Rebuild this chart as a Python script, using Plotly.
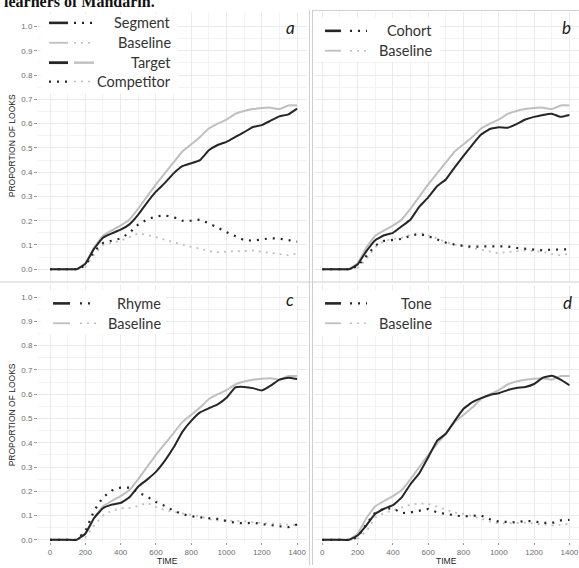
import plotly.graph_objects as go

W, H = 579, 568

# ---------------- data ----------------
time_ms = [0, 50, 100, 150, 200, 250, 300, 350, 400, 450, 500, 550, 600, 650, 700,
           750, 800, 850, 900, 950, 1000, 1050, 1100, 1150, 1200, 1250, 1300, 1350, 1400]

baseline_target = [0, 0, 0, 0, 0.025, 0.09, 0.138, 0.16, 0.18, 0.205, 0.25, 0.30, 0.35, 0.395, 0.44,
                   0.485, 0.515, 0.545, 0.58, 0.60, 0.617, 0.64, 0.652, 0.66, 0.664, 0.666, 0.66, 0.675, 0.675]

segment_target = [0, 0, 0, 0, 0.022, 0.085, 0.13, 0.148, 0.163, 0.185, 0.225, 0.275, 0.32, 0.355, 0.395,
                  0.425, 0.437, 0.45, 0.49, 0.512, 0.525, 0.545, 0.565, 0.586, 0.594, 0.612, 0.63, 0.638, 0.662]
segment_comp = [0, 0, 0, 0, 0.015, 0.075, 0.108, 0.117, 0.127, 0.15, 0.185, 0.205, 0.218, 0.222, 0.215,
                0.2, 0.2, 0.205, 0.19, 0.172, 0.153, 0.135, 0.12, 0.118, 0.123, 0.128, 0.126, 0.12, 0.114]
segment_base_comp = [0, 0, 0, 0, 0.01, 0.06, 0.1, 0.108, 0.118, 0.132, 0.148, 0.142, 0.132, 0.122, 0.112,
                     0.101, 0.092, 0.085, 0.075, 0.07, 0.073, 0.075, 0.075, 0.077, 0.072, 0.067, 0.06, 0.058, 0.064]

cohort_target = [0, 0, 0, 0, 0.02, 0.075, 0.12, 0.14, 0.15, 0.177, 0.205, 0.258, 0.296, 0.342, 0.37,
                 0.42, 0.467, 0.513, 0.555, 0.578, 0.585, 0.583, 0.598, 0.617, 0.628, 0.636, 0.641, 0.628, 0.636]
cohort_comp = [0, 0, 0, 0, 0.012, 0.056, 0.098, 0.117, 0.122, 0.125, 0.138, 0.146, 0.136, 0.123, 0.11,
               0.102, 0.096, 0.092, 0.094, 0.094, 0.094, 0.094, 0.088, 0.085, 0.082, 0.078, 0.081, 0.082, 0.082]
cohort_base_comp = [0, 0, 0, 0, 0.005, 0.042, 0.092, 0.117, 0.125, 0.13, 0.142, 0.15, 0.14, 0.126, 0.113,
                    0.102, 0.095, 0.088, 0.083, 0.075, 0.066, 0.071, 0.074, 0.077, 0.075, 0.072, 0.063, 0.058, 0.064]

rhyme_target = [0, 0, 0, 0, 0.025, 0.09, 0.13, 0.145, 0.152, 0.175, 0.22, 0.248, 0.28, 0.325, 0.38,
                0.445, 0.49, 0.525, 0.542, 0.558, 0.585, 0.628, 0.63, 0.625, 0.615, 0.635, 0.66, 0.668, 0.663]
rhyme_comp = [0, 0, 0, 0, 0.035, 0.12, 0.175, 0.203, 0.215, 0.215, 0.195, 0.178, 0.156, 0.14, 0.12,
              0.106, 0.097, 0.092, 0.089, 0.086, 0.077, 0.07, 0.068, 0.071, 0.065, 0.059, 0.056, 0.052, 0.063]
rhyme_base_comp = [0, 0, 0, 0, 0.01, 0.06, 0.1, 0.12, 0.13, 0.131, 0.14, 0.152, 0.136, 0.123, 0.115,
                   0.11, 0.104, 0.097, 0.085, 0.079, 0.079, 0.079, 0.077, 0.072, 0.07, 0.068, 0.066, 0.062, 0.06]

tone_target = [0, 0, 0, 0, 0.018, 0.06, 0.107, 0.128, 0.143, 0.175, 0.23, 0.275, 0.34, 0.408, 0.437,
               0.49, 0.54, 0.567, 0.584, 0.597, 0.604, 0.617, 0.626, 0.63, 0.642, 0.668, 0.676, 0.66, 0.637]
tone_comp = [0, 0, 0, 0, 0.01, 0.065, 0.113, 0.128, 0.13, 0.11, 0.113, 0.12, 0.127, 0.113, 0.106,
             0.101, 0.096, 0.1, 0.1, 0.085, 0.075, 0.072, 0.072, 0.078, 0.076, 0.07, 0.069, 0.08, 0.082]
tone_base_comp = [0, 0, 0, 0, 0.005, 0.036, 0.093, 0.11, 0.122, 0.134, 0.145, 0.15, 0.148, 0.137, 0.124,
                  0.112, 0.107, 0.098, 0.087, 0.075, 0.068, 0.068, 0.07, 0.071, 0.067, 0.062, 0.059, 0.062, 0.066]

y_ticks = [0.0, 0.1, 0.2, 0.3, 0.4, 0.5, 0.6, 0.7, 0.8, 0.9, 1.0]
x_ticks = [0, 200, 400, 600, 800, 1000, 1200, 1400]

panels = [
    # (axis suffix, panel letter, condition name, target, competitor, baseline competitor)
    ("", "a", "Segment", segment_target, segment_comp, segment_base_comp),
    ("2", "b", "Cohort", cohort_target, cohort_comp, cohort_base_comp),
    ("3", "c", "Rhyme", rhyme_target, rhyme_comp, rhyme_base_comp),
    ("4", "d", "Tone", tone_target, tone_comp, tone_base_comp),
]

# ---------------- styles ----------------
BLACK = "#262626"
GRAY = "#bfbfbf"
GRID = "#ebebeb"
GRID_MINOR = "#f3f3f3"
TXT = "#333333"
TICK = "#6e6e6e"
DOT_B = "2px,6px"
DOT_G = "2px,5px"

def px_x(px):
    return px / W

def px_y(py):
    return 1 - py / H

fig = go.Figure()

for suf, letter, name, tgt, comp, bcomp in panels:
    xa = "x" + suf
    ya = "y" + suf
    fig.add_trace(go.Scatter(x=time_ms, y=bcomp, mode="lines", xaxis=xa, yaxis=ya,
                             line=dict(color=GRAY, width=1.8, dash=DOT_G), showlegend=False))
    fig.add_trace(go.Scatter(x=time_ms, y=baseline_target, mode="lines", xaxis=xa, yaxis=ya,
                             line=dict(color=GRAY, width=2, shape="spline", smoothing=0.3), showlegend=False))
    fig.add_trace(go.Scatter(x=time_ms, y=comp, mode="lines", xaxis=xa, yaxis=ya,
                             line=dict(color=BLACK, width=2.2, dash=DOT_B), showlegend=False))
    fig.add_trace(go.Scatter(x=time_ms, y=tgt, mode="lines", xaxis=xa, yaxis=ya,
                             line=dict(color=BLACK, width=2, shape="spline", smoothing=0.3), showlegend=False))

# ---------------- axes ----------------
LEFT_X = [38, 307]
RIGHT_X = [314, 579]
TOP_Y = [12, 282]
BOT_Y = [287, 545]

def xrange_for(dom, zero_px):
    s = 35.3 / 200
    return [(dom[0] - zero_px) / s, (dom[1] - zero_px) / s]

def yrange_for(dom, zero_py):
    s = 244.0
    return [(zero_py - dom[1]) / s, (zero_py - dom[0]) / s]

axis_font = dict(family="Liberation Sans, Arial, sans-serif", size=8, color=TICK)

def xaxis(dom, zero_px, labels):
    return dict(domain=[px_x(dom[0]), px_x(dom[1])], range=xrange_for(dom, zero_px),
                tickvals=x_ticks, showticklabels=labels, ticks="outside" if labels else "",
                ticklen=2, tickcolor="#999999", tickfont=axis_font,
                showgrid=True, gridcolor=GRID, gridwidth=1, zeroline=False, showline=False,
                minor=dict(tickvals=[100, 300, 500, 700, 900, 1100, 1300], showgrid=True,
                           gridcolor=GRID_MINOR, gridwidth=1, ticks=""),
                fixedrange=True)

def yaxis(dom, zero_py, labels, anchor):
    return dict(domain=[px_y(dom[1]), px_y(dom[0])], range=yrange_for(dom, zero_py),
                tickvals=y_ticks, ticktext=["%.1f" % v for v in y_ticks],
                showticklabels=labels, ticks="outside" if labels else "",
                ticklen=3, tickcolor="#999999", tickfont=axis_font,
                showgrid=True, gridcolor=GRID, gridwidth=1, zeroline=False, showline=False,
                minor=dict(tickvals=[0.05, 0.15, 0.25, 0.35, 0.45, 0.55, 0.65, 0.75, 0.85, 0.95],
                           showgrid=True, gridcolor=GRID_MINOR, gridwidth=1, ticks=""),
                anchor=anchor, fixedrange=True)

fig.update_layout(
    width=W, height=H, autosize=False,
    margin=dict(l=0, r=0, t=0, b=0),
    paper_bgcolor="white", plot_bgcolor="white",
    showlegend=False,
    xaxis=dict(xaxis(LEFT_X, 50.0, False), anchor="y"),
    yaxis=yaxis(TOP_Y, 270.7, True, "x"),
    xaxis2=dict(xaxis(RIGHT_X, 322.3, False), anchor="y2"),
    yaxis2=yaxis(TOP_Y, 270.7, False, "x2"),
    xaxis3=dict(xaxis(LEFT_X, 50.0, True), anchor="y3"),
    yaxis3=yaxis(BOT_Y, 542.7, True, "x3"),
    xaxis4=dict(xaxis(RIGHT_X, 322.3, True), anchor="y4"),
    yaxis4=yaxis(BOT_Y, 542.7, False, "x4"),
)

shapes = []
annotations = []

# panel separators
sep = dict(color="#cfcfcf", width=1)
for xp in (309.5, 312.5):
    shapes.append(dict(type="line", xref="paper", yref="paper", x0=px_x(xp), x1=px_x(xp),
                       y0=px_y(10), y1=0, line=sep, layer="above"))
shapes.append(dict(type="line", xref="paper", yref="paper", x0=0, x1=1,
                   y0=px_y(283.5), y1=px_y(283.5), line=sep, layer="above"))
shapes.append(dict(type="line", xref="paper", yref="paper", x0=px_x(312.5), x1=1,
                   y0=px_y(10.5), y1=px_y(10.5), line=sep, layer="above"))

# legend boxes
def legend_box(x0, y0, x1, y1):
    shapes.append(dict(type="rect", xref="paper", yref="paper", x0=px_x(x0), x1=px_x(x1),
                       y0=px_y(y1), y1=px_y(y0), fillcolor="white", line=dict(width=0), layer="above"))

def sample(x0, x1, py, color, dash, width):
    d = dict(color=color, width=width)
    if dash:
        d["dash"] = dash
    shapes.append(dict(type="line", xref="paper", yref="paper", x0=px_x(x0), x1=px_x(x1),
                       y0=px_y(py), y1=px_y(py), line=d, layer="above"))

def label(text, xr, py, size=14.5):
    annotations.append(dict(text=text, xref="paper", yref="paper", x=px_x(xr), y=px_y(py),
                            xanchor="right", yanchor="middle", showarrow=False,
                            font=dict(family="Lato, Carlito, sans-serif", size=size, color=TXT)))

# panel a legend
legend_box(41, 14, 178, 94)
rows_a = [
    ("Segment", 23, (BLACK, None, 2.6), (BLACK, DOT_B, 2.2)),
    ("Baseline", 43, (GRAY, None, 1.8), (GRAY, DOT_G, 1.6)),
    ("Target", 63, (BLACK, None, 2.8), (GRAY, None, 2.4)),
    ("Competitor", 82, (BLACK, DOT_B, 2.2), (GRAY, DOT_G, 1.6)),
]
for txt, py, s1, s2 in rows_a:
    sample(49, 68, py, s1[0], s1[1], s1[2])
    sample(74, 94, py, s2[0], s2[1], s2[2])
    label(txt, 173, py)

# panels b, c, d legends
small_legends = [
    ("Cohort", 315, 18, 440, 62, 325, 341, 350, 367, 433.5, 31, 51),
    ("Rhyme", 41, 292, 166, 336, 53, 70, 80, 96, 162.5, 305, 325),
    ("Tone", 315, 292, 440, 338, 325, 341, 350, 367, 433.5, 305, 325),
]
for name, bx0, by0, bx1, by1, s0, s1, d0, d1, tr, r1, r2 in small_legends:
    legend_box(bx0, by0, bx1, by1)
    sample(s0, s1, r1, BLACK, None, 2.6)
    sample(d0, d1, r1, BLACK, DOT_B, 2.2)
    label(name, tr, r1)
    sample(s0, s1, r2, GRAY, None, 1.8)
    sample(d0, d1, r2, GRAY, DOT_G, 1.6)
    label("Baseline", tr, r2)

# panel letters
for letter, xp, yp in (("a", 290, 28), ("b", 566, 28), ("c", 290, 301), ("d", 567, 304)):
    annotations.append(dict(text="<i>%s</i>" % letter, xref="paper", yref="paper",
                            x=px_x(xp), y=px_y(yp), xanchor="center", yanchor="middle",
                            showarrow=False,
                            font=dict(family="Lato, Carlito, sans-serif", size=17, color="#1a1a1a")))

# axis titles
title_font = dict(family="Liberation Sans Narrow, Arial Narrow, Liberation Sans, sans-serif",
                  size=8.5, color="#222222")
for yc in ((12 + 282) / 2, (287 + 548) / 2):
    annotations.append(dict(text="PROPORTION OF LOOKS", xref="paper", yref="paper",
                            x=px_x(12), y=px_y(yc), textangle=-90, xanchor="center",
                            yanchor="middle", showarrow=False, font=title_font))
for xc in (167, 446):
    annotations.append(dict(text="TIME", xref="paper", yref="paper", x=px_x(xc), y=px_y(564),
                            xanchor="center", yanchor="middle", showarrow=False, font=title_font))

# cut-off caption line at top
annotations.append(dict(text="<b>learners of Mandarin.</b>", xref="paper", yref="paper",
                        x=px_x(2), y=px_y(2), xanchor="left", yanchor="middle", showarrow=False,
                        font=dict(family="Liberation Serif, Times New Roman, serif", size=16, color="#111111")))

fig.update_layout(shapes=shapes, annotations=annotations)

fig.write_html("out.html",
               config={"displayModeBar": False},
               post_script="document.body.style.margin='0';document.body.style.padding='0';"
                           "document.body.style.overflow='hidden';"
                           "document.documentElement.style.overflow='hidden';")
